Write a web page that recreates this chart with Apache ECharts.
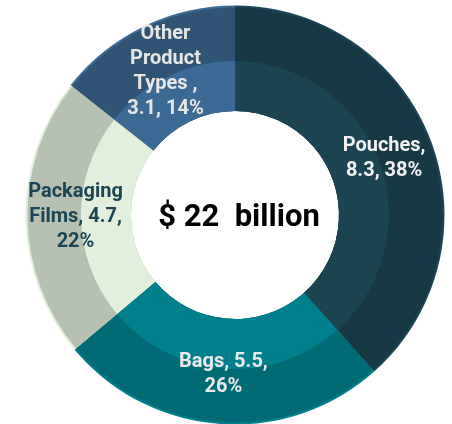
<!DOCTYPE html>
<html><head><meta charset="utf-8">
<script src="https://cdn.jsdelivr.net/npm/echarts@6/dist/echarts.min.js"></script>
<style>html,body{margin:0;padding:0;background:#fff}#c{width:452px;height:424px}</style>
</head><body><div id="c"></div>
<script>
const categories = ["Pouches", "Bags", "Packaging Films", "Other Product Types "];
const values = [8.3, 5.5, 4.7, 3.1];
const labelLines = ["Pouches,\n{c}, {d}%", "Bags, {c},\n{d}%", "Packaging\nFilms, {c},\n{d}%", "Other\nProduct\nTypes ,\n{c}, {d}%"];
const innerColors = ["#1b4553", "#00808c", "#e2efdc", "#3b6b94"];
const outerColors = ["#173845", "#006a75", "#b7c1b3", "#2f5474"];
const edgeColors = ["#1d4756", "#00818d", "#dfeed8", "#3d6c96"];
const labelColors = ["#f2f2f2", "#eaeaea", "#1b4553", "#e6e6e6"];
const centerText = "$ 22  billion";

const chart = echarts.init(document.getElementById('c'), null, {renderer: 'canvas'});
const center = [235, 215];
const noBorder = {borderWidth:0, borderColor:'rgba(0,0,0,0)', borderRadius:0};
function mk(colors){ return categories.map((n,i)=>({name:n, value:values[i], itemStyle:Object.assign({color:colors[i]}, noBorder)})); }
const base = {type:'pie', center, startAngle:90, clockwise:true, percentPrecision:0, padAngle:0,
  label:{show:false}, labelLine:{show:false}, silent:true, itemStyle: noBorder, emphasis:{disabled:true}};
chart.setOption({
  animation: false,
  series: [
    Object.assign({}, base, {radius:[104,209.5], z:1, data: mk(edgeColors)}),
    Object.assign({}, base, {radius:[104,207.5], z:2, data: mk(outerColors)}),
    Object.assign({}, base, {radius:[104,154], z:3, data: mk(innerColors)}),
    Object.assign({}, base, {radius:[104,209], z:10,
     itemStyle:Object.assign({color:'rgba(0,0,0,0)'}, noBorder),
     label:{show:true, position:'inside', fontFamily:'Roboto', fontWeight:'bold', fontSize:20, lineHeight:25,
       formatter: p => labelLines[p.dataIndex].replace('{c}', p.value).replace('{d}', p.percent),
     },
     data: categories.map((n,i)=>({name:n, value:values[i], label:{color:labelColors[i]}}))})
  ],
  graphic: [{type:'text', z:100,
    style:{text:centerText, x:center[0]+4, y:center[1]+3, align:'center', verticalAlign:'middle',
      font:'bold 31px Roboto', fill:'#000'}}]
});
</script></body></html>
